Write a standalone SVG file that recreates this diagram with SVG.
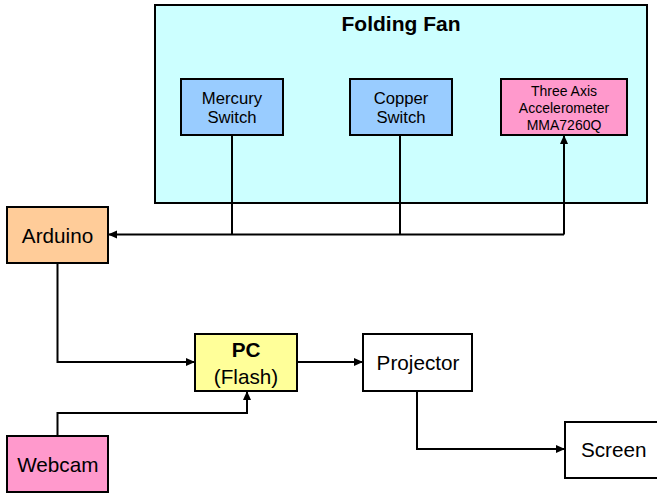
<svg xmlns="http://www.w3.org/2000/svg" width="657" height="494" viewBox="0 0 657 494">
<style>
.box{stroke:#000;stroke-width:2}
.t{font-family:"Liberation Sans",Arial,sans-serif;text-anchor:middle;fill:#000}
.l{font-size:20.7px}
.m{font-size:16.7px}
.c{fill:none;stroke:#000;stroke-width:2}
</style>
<defs>
<marker id="ah" markerWidth="10" markerHeight="10" refX="8" refY="4" orient="auto" markerUnits="userSpaceOnUse">
<path d="M0,0 L9,4 L0,8 Z" fill="#000"/>
</marker>
</defs>
<rect x="0" y="0" width="657" height="494" fill="#fff"/>
<g id="folding-fan">
<rect class="box" x="155" y="5" width="492" height="198" fill="#CCFFFF"/>
<text class="t" x="401" y="31" font-size="21" font-weight="bold">Folding Fan</text>
</g>
<g id="mercury">
<rect class="box" x="181" y="79" width="102" height="56" fill="#99CCFF"/>
<text class="t m" x="232" y="103.5">Mercury</text>
<text class="t m" x="232" y="122.7">Switch</text>
</g>
<g id="copper">
<rect class="box" x="350" y="79" width="102" height="56" fill="#99CCFF"/>
<text class="t m" x="401" y="103.5">Copper</text>
<text class="t m" x="401" y="122.7">Switch</text>
</g>
<g id="accel">
<rect class="box" x="501" y="79" width="126" height="56" fill="#FF99CC"/>
<text class="t" x="564" y="96" font-size="14">Three Axis</text>
<text class="t" x="564" y="113" font-size="14">Accelerometer</text>
<text class="t" x="564" y="130" font-size="14">MMA7260Q</text>
</g>
<g id="arduino">
<rect class="box" x="7" y="207" width="101" height="56" fill="#FFCC99"/>
<text class="t l" x="57.5" y="242.7">Arduino</text>
</g>
<g id="pc">
<rect class="box" x="195" y="334" width="102" height="57" fill="#FFFF99"/>
<text class="t l" x="246" y="357.3" font-weight="bold">PC</text>
<text class="t l" x="246" y="383.5">(Flash)</text>
</g>
<g id="webcam">
<rect class="box" x="7" y="436" width="101" height="56" fill="#FF99CC"/>
<text class="t l" x="57.8" y="472">Webcam</text>
</g>
<g id="projector">
<rect class="box" x="363" y="334" width="109" height="57" fill="#fff"/>
<text class="t l" x="418" y="370">Projector</text>
</g>
<g id="screen">
<rect class="box" x="565" y="422" width="104" height="56" fill="#fff"/>
<text class="t l" x="613.7" y="457">Screen</text>
</g>
<g id="connectors">
<path class="c" d="M232,135 V234.5"/>
<path class="c" d="M400,135 V234.5"/>
<path class="c" d="M564,234.5 V136" marker-end="url(#ah)"/>
<path class="c" d="M564,234.5 H109" marker-end="url(#ah)"/>
<path class="c" d="M57.5,263 V362 H194" marker-end="url(#ah)"/>
<path class="c" d="M57.5,436 V413 H247 V392" marker-end="url(#ah)"/>
<path class="c" d="M297,362 H362" marker-end="url(#ah)"/>
<path class="c" d="M417,391 V449 H564" marker-end="url(#ah)"/>
</g>
</svg>
